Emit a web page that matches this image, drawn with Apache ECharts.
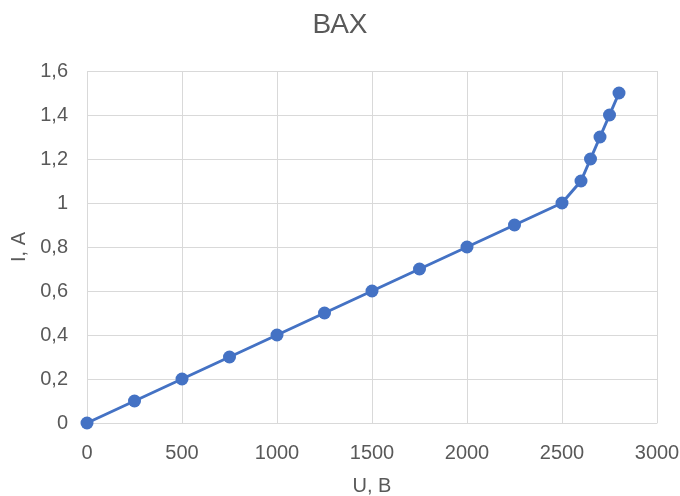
<!DOCTYPE html>
<html>
<head>
<meta charset="utf-8">
<script src="https://cdn.jsdelivr.net/npm/echarts@6/dist/echarts.min.js"></script>
<style>
  html, body { margin: 0; padding: 0; background: #ffffff; }
  #chart { width: 680px; height: 496px; }
</style>
</head>
<body>
<div id="chart"></div>
<script>
// Current-voltage characteristic: voltage U (V) and current I (A)
const voltage = [0, 250, 500, 750, 1000, 1250, 1500, 1750, 2000, 2250, 2500, 2600, 2650, 2700, 2750, 2800];
const current = [0, 0.1, 0.2, 0.3, 0.4, 0.5, 0.6, 0.7, 0.8, 0.9, 1.0, 1.1, 1.2, 1.3, 1.4, 1.5];

const titleText = 'ВАХ';
const xName = 'U, B';
const yName = 'I, A';

const textColor = '#595959';
const gridColor = '#d9d9d9';
const lineColor = '#4472c4';
const fontFamily = '"Liberation Sans", Arial, sans-serif';

const points = voltage.map((u, i) => [u, current[i]]);

const chart = echarts.init(document.getElementById('chart'), null, { renderer: 'canvas' });
chart.setOption({
  animation: false,
  backgroundColor: '#ffffff',
  title: {
    text: titleText,
    left: 'center',
    top: 6,
    textStyle: { color: textColor, fontSize: 28, fontWeight: 'normal', fontFamily: fontFamily }
  },
  grid: { left: 87, right: 23, top: 71, bottom: 73, outerBoundsMode: 'none', containLabel: false },
  xAxis: {
    type: 'value',
    min: 0, max: 3000, interval: 500,
    name: xName,
    nameLocation: 'middle',
    nameGap: 53,
    nameTextStyle: { color: textColor, fontSize: 20, fontFamily: fontFamily },
    axisLine: { show: true, lineStyle: { color: gridColor, width: 1 } },
    axisTick: { show: false },
    axisLabel: {
      color: textColor, fontSize: 20, margin: 20, fontFamily: fontFamily,
      formatter: v => String(v)
    },
    splitLine: { show: true, lineStyle: { color: gridColor, width: 1 } }
  },
  yAxis: {
    type: 'value',
    min: 0, max: 1.6, interval: 0.2,
    name: yName,
    nameLocation: 'middle',
    nameGap: 56,
    nameTextStyle: { color: textColor, fontSize: 20, fontFamily: fontFamily },
    axisLine: { show: false },
    axisTick: { show: false },
    axisLabel: {
      color: textColor, fontSize: 20, margin: 19, fontFamily: fontFamily,
      formatter: v => String(Math.round(v * 10) / 10).replace('.', ',')
    },
    splitLine: { show: true, lineStyle: { color: gridColor, width: 1 } }
  },
  series: [{
    type: 'line',
    data: points,
    symbol: 'circle',
    symbolSize: 13,
    lineStyle: { color: lineColor, width: 3 },
    itemStyle: { color: lineColor },
    clip: false
  }]
});
</script>
</body>
</html>
